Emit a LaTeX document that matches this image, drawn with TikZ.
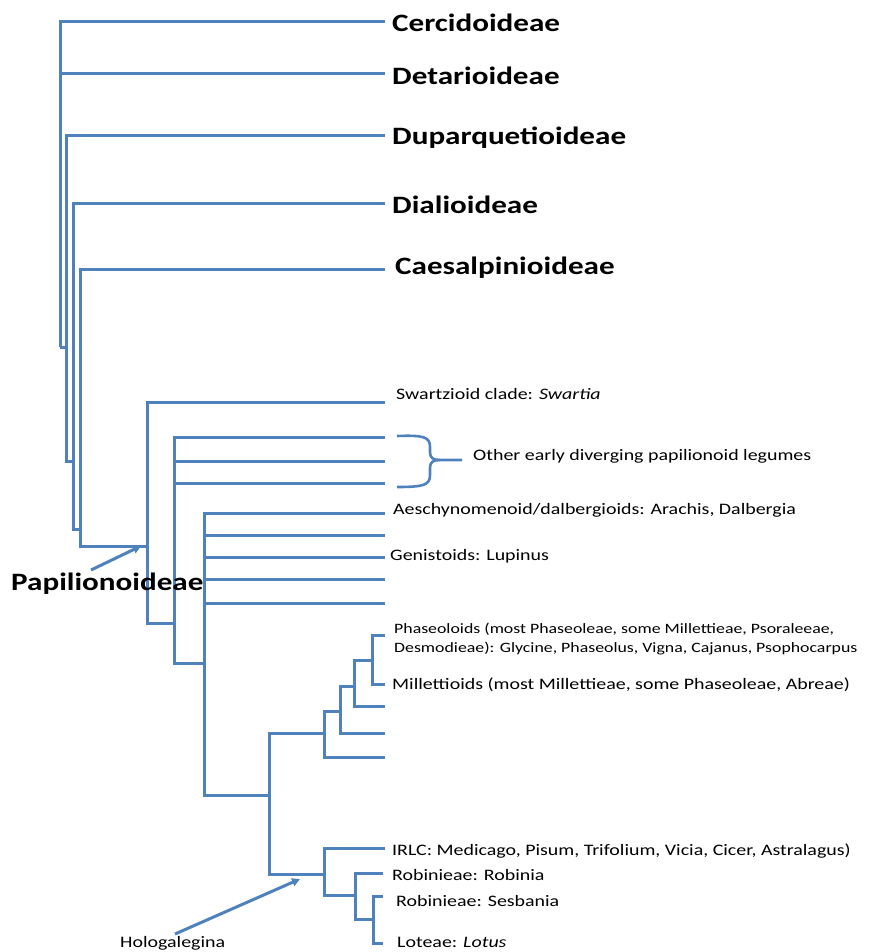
\documentclass[tikz,border=0pt]{standalone}
\usepackage{fontspec}
\setmainfont[FakeStretch=1.245]{Carlito}
\usetikzlibrary{arrows.meta}
\definecolor{legblue}{HTML}{4F81BD}
\begin{document}
\begin{tikzpicture}[x=1pt,y=-1pt,
  branch/.style={draw=legblue, line width=3pt},
  big/.style={anchor=base west, inner sep=0pt, font=\fontsize{25}{30}\selectfont\bfseries},
  small/.style={anchor=base west, inner sep=0pt, font=\fontsize{16}{19}\selectfont},
  smaller/.style={anchor=base west, inner sep=0pt, font=\fontsize{14.3}{19}\selectfont},
  ptr/.style={draw=legblue, line width=3pt, -{Triangle[length=8pt,width=8pt]}}]
\useasboundingbox (0,0) rectangle (871,952);

% internal nodes (point where the parent branch attaches)
\coordinate (root) at (60,347);
\coordinate (n2) at (66,347);
\coordinate (n3) at (73,461);
\coordinate (n4) at (80,529);
\coordinate (pap) at (147,546);
\coordinate (oth) at (174,623);
\coordinate (aes) at (204,663);
\coordinate (n269) at (269,795);
\coordinate (nA) at (324,733);
\coordinate (nB) at (340,711);
\coordinate (nC) at (354,686);
\coordinate (nD) at (372,660);
\coordinate (holo) at (324,874);
\coordinate (nE) at (355,895);
\coordinate (nF) at (373,919);

% tips
\coordinate (tCer) at (385,22);
\coordinate (tDet) at (385,74);
\coordinate (tDup) at (385,136);
\coordinate (tDia) at (385,203);
\coordinate (tCae) at (385,269);
\coordinate (tSwa) at (385,402);
\coordinate (tO1) at (385,437);
\coordinate (tO2) at (385,461);
\coordinate (tO3) at (385,483);
\coordinate (tA1) at (385,513);
\coordinate (tA2) at (385,535);
\coordinate (tA3) at (385,557);
\coordinate (tA4) at (385,579);
\coordinate (tA5) at (385,603);
\coordinate (tPha) at (385,635);
\coordinate (tMil) at (385,684);
\coordinate (tC1) at (385,706);
\coordinate (tB1) at (385,733);
\coordinate (tA6) at (385,757);
\coordinate (tIRL) at (385,848);
\coordinate (tRob) at (383,873);
\coordinate (tSes) at (383,896);
\coordinate (tLot) at (383,943);

% tree
\draw[branch] (root) |- (tCer);
\draw[branch] (root) |- (tDet);
\draw[branch] (root) |- (n2);
\draw[branch] (n2) |- (tDup);
\draw[branch] (n2) |- (n3);
\draw[branch] (n3) |- (tDia);
\draw[branch] (n3) |- (n4);
\draw[branch] (n4) |- (tCae);
\draw[branch] (n4) |- (pap);
\draw[branch] (pap) |- (tSwa);
\draw[branch] (pap) |- (oth);
\draw[branch] (oth) |- (tO1);
\draw[branch] (oth) |- (tO2);
\draw[branch] (oth) |- (tO3);
\draw[branch] (oth) |- (aes);
\draw[branch] (aes) |- (tA1);
\draw[branch] (aes) |- (tA2);
\draw[branch] (aes) |- (tA3);
\draw[branch] (aes) |- (tA4);
\draw[branch] (aes) |- (tA5);
\draw[branch] (aes) |- (n269);
\draw[branch] (n269) |- (nA);
\draw[branch] (n269) |- (holo);
\draw[branch] (nA) |- (nB);
\draw[branch] (nA) |- (tA6);
\draw[branch] (nB) |- (nC);
\draw[branch] (nB) |- (tB1);
\draw[branch] (nC) |- (nD);
\draw[branch] (nC) |- (tC1);
\draw[branch] (nD) |- (tPha);
\draw[branch] (nD) |- (tMil);
\draw[branch] (holo) |- (tIRL);
\draw[branch] (holo) |- (nE);
\draw[branch] (nE) |- (tRob);
\draw[branch] (nE) |- (nF);
\draw[branch] (nF) |- (tSes);
\draw[branch] (nF) |- (tLot);

% brace
\draw[branch, line width=2.6pt, line join=round]
  (397,436) .. controls (424,435) and (430,437) .. (430,447) -- (430,452)
  .. controls (430,458) and (433,460) .. (440,460) -- (462,460);
\draw[branch, line width=2.6pt, line join=round]
  (440,460) .. controls (433,460) and (430,462) .. (430,468) -- (430,475)
  .. controls (430,485) and (424,487) .. (397,487);

% labels
\node[big] (lCer) at (392,32) {Cercidoideae};
\node[big] (lDet) at (392,85) {Detarioideae};
\node[big] (lDup) at (392,145) {Duparquetioideae};
\node[big] (lDia) at (392,213) {Dialioideae};
\node[big] (lCae) at (395,274) {Caesalpinioideae};
\node[big] (lPap) at (11,590) {Papilionoideae};

\node[small] (lSwa) at (396,399) {Swartzioid clade: \textit{Swartia}};
\node[small] (lOth) at (473,460) {Other early diverging papilionoid legumes};
\node[small] (lAes) at (393,514) {Aeschynomenoid/dalbergioids: Arachis, Dalbergia};
\node[small] (lGen) at (390,560) {Genistoids: Lupinus};
\node[smaller] (lPh1) at (394,633) {Phaseoloids (most Phaseoleae, some Millettieae, Psoraleeae,};
\node[smaller] (lPh2) at (394,652) {Desmodieae): Glycine, Phaseolus, Vigna, Cajanus, Psophocarpus};
\node[small] (lMil) at (392,689) {Millettioids (most Millettieae, some Phaseoleae, Abreae)};
\node[small] (lIRL) at (392,855) {IRLC: Medicago, Pisum, Trifolium, Vicia, Cicer, Astralagus)};
\node[small] (lRob) at (392,880) {Robinieae: Robinia};
\node[small] (lSes) at (396,906) {Robinieae: Sesbania};
\node[small] (lLot) at (397,947) {Loteae: \textit{Lotus}};
\node[small] (lHol) at (120,947) {Hologalegina};

% pointer arrows
\coordinate (papA) at (91,570);
\coordinate (papB) at (141,546);
\coordinate (holA) at (175,934);
\coordinate (holB) at (300,879);
\draw[ptr] (papA) -- (papB);
\draw[ptr] (holA) -- (holB);
\end{tikzpicture}
\end{document}
